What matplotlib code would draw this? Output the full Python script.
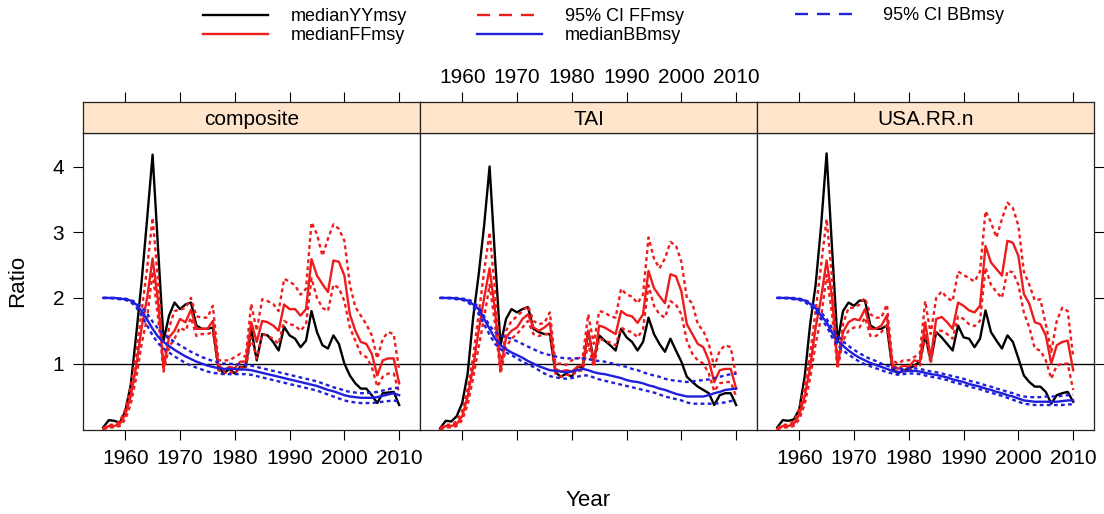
#!/usr/bin/env python3
"""Median YY/FF/BB msy ratios with 95% CIs, three stock assessments, lattice-style panels."""
import matplotlib
matplotlib.use("Agg")
import matplotlib.pyplot as plt
from matplotlib.lines import Line2D

years = list(range(1956, 2011))
panel_names = ["composite", "TAI", "USA.RR.n"]
x_ticks = [1960, 1970, 1980, 1990, 2000, 2010]
y_ticks = [1, 2, 3, 4]

# ---- composite ----
yy_composite = [0.03, 0.14, 0.13, 0.10, 0.27, 0.67, 1.43, 2.25, 3.20, 4.18,
                2.75, 1.35, 1.73, 1.93, 1.83, 1.90, 1.93, 1.58, 1.53, 1.53,
                1.55, 0.95, 0.85, 0.92, 0.85, 0.95, 0.95, 1.53, 1.05, 1.45,
                1.43, 1.33, 1.20, 1.56, 1.43, 1.38, 1.25, 1.35, 1.80, 1.48,
                1.28, 1.23, 1.43, 1.30, 1.00, 0.82, 0.70, 0.62, 0.62, 0.52,
                0.40, 0.55, 0.56, 0.57, 0.37]
ff_composite = [0.00, 0.05, 0.05, 0.08, 0.22, 0.50, 0.95, 1.55, 2.00, 2.60,
                1.95, 0.92, 1.40, 1.50, 1.68, 1.63, 1.82, 1.53, 1.53, 1.53,
                1.65, 0.98, 0.90, 0.95, 0.93, 1.03, 1.03, 1.63, 1.33, 1.65,
                1.63, 1.58, 1.50, 1.90, 1.83, 1.83, 1.73, 1.83, 2.59, 2.34,
                2.21, 2.09, 2.57, 2.55, 2.34, 1.75, 1.50, 1.33, 1.30, 1.15,
                0.82, 1.05, 1.08, 1.08, 0.70]
ff_hi_composite = [0.02, 0.07, 0.07, 0.12, 0.30, 0.65, 1.15, 1.80, 2.45, 3.22,
                   2.25, 1.00, 1.55, 1.80, 1.82, 1.85, 2.00, 1.72, 1.70, 1.70,
                   1.88, 1.05, 1.05, 1.05, 1.10, 1.15, 1.10, 1.91, 1.50, 1.98,
                   1.95, 1.91, 1.80, 2.29, 2.25, 2.19, 2.05, 2.14, 3.15, 2.97,
                   2.64, 2.90, 3.12, 3.05, 2.87, 2.20, 1.86, 1.73, 1.60, 1.43,
                   1.08, 1.38, 1.48, 1.45, 0.90]
ff_lo_composite = [0.00, 0.03, 0.03, 0.05, 0.15, 0.38, 0.78, 1.30, 1.70, 2.40,
                   1.70, 0.88, 1.25, 1.38, 1.55, 1.50, 1.70, 1.42, 1.45, 1.45,
                   1.48, 0.90, 0.85, 0.88, 0.85, 0.95, 0.92, 1.40, 1.08, 1.45,
                   1.42, 1.38, 1.30, 1.65, 1.60, 1.58, 1.50, 1.60, 2.30, 2.00,
                   1.85, 1.80, 2.20, 2.15, 1.95, 1.55, 1.35, 1.15, 1.10, 0.95,
                   0.65, 0.80, 0.85, 0.85, 0.55]
bb_composite = [2.00, 2.00, 2.00, 1.99, 1.98, 1.96, 1.90, 1.80, 1.67, 1.53,
                1.41, 1.33, 1.27, 1.21, 1.16, 1.11, 1.07, 1.03, 1.00, 0.97,
                0.95, 0.93, 0.92, 0.92, 0.92, 0.91, 0.91, 0.90, 0.88, 0.86,
                0.84, 0.82, 0.80, 0.78, 0.76, 0.74, 0.72, 0.70, 0.68, 0.66,
                0.63, 0.60, 0.58, 0.55, 0.52, 0.50, 0.49, 0.48, 0.48, 0.48,
                0.49, 0.51, 0.53, 0.55, 0.52]
bb_hi_composite = [2.00, 2.00, 2.00, 1.99, 1.99, 1.97, 1.93, 1.86, 1.76, 1.64,
                   1.53, 1.45, 1.39, 1.33, 1.28, 1.23, 1.18, 1.14, 1.10, 1.07,
                   1.04, 1.02, 1.00, 1.00, 0.99, 0.99, 0.98, 0.97, 0.95, 0.93,
                   0.91, 0.89, 0.87, 0.85, 0.83, 0.81, 0.79, 0.77, 0.75, 0.73,
                   0.70, 0.67, 0.64, 0.62, 0.59, 0.57, 0.56, 0.55, 0.55, 0.56,
                   0.57, 0.59, 0.61, 0.63, 0.63]
bb_lo_composite = [2.00, 2.00, 1.99, 1.98, 1.97, 1.94, 1.86, 1.73, 1.58, 1.43,
                   1.31, 1.23, 1.17, 1.11, 1.06, 1.01, 0.97, 0.94, 0.91, 0.88,
                   0.86, 0.85, 0.84, 0.84, 0.84, 0.84, 0.84, 0.83, 0.81, 0.79,
                   0.77, 0.75, 0.73, 0.71, 0.69, 0.67, 0.65, 0.63, 0.61, 0.59,
                   0.56, 0.53, 0.50, 0.47, 0.44, 0.42, 0.41, 0.40, 0.40, 0.40,
                   0.41, 0.42, 0.43, 0.44, 0.42]

# ---- TAI ----
yy_tai = [0.02, 0.13, 0.12, 0.20, 0.40, 0.85, 1.70, 2.35, 3.10, 4.00,
          2.60, 1.28, 1.68, 1.83, 1.78, 1.83, 1.86, 1.53, 1.48, 1.45,
          1.45, 0.87, 0.80, 0.85, 0.80, 0.95, 0.95, 1.50, 1.05, 1.43,
          1.35, 1.28, 1.20, 1.53, 1.40, 1.33, 1.20, 1.33, 1.70, 1.45,
          1.30, 1.18, 1.38, 1.20, 1.03, 0.80, 0.72, 0.65, 0.60, 0.55,
          0.37, 0.52, 0.55, 0.55, 0.37]
ff_tai = [0.00, 0.05, 0.05, 0.08, 0.20, 0.50, 0.95, 1.50, 2.00, 2.45,
          1.80, 0.90, 1.40, 1.50, 1.55, 1.68, 1.75, 1.55, 1.50, 1.55,
          1.62, 0.92, 0.88, 0.90, 0.88, 0.95, 0.98, 1.50, 1.00, 1.58,
          1.55, 1.50, 1.45, 1.80, 1.74, 1.72, 1.62, 1.75, 2.41, 2.15,
          2.03, 1.92, 2.36, 2.33, 2.10, 1.60, 1.45, 1.30, 1.25, 1.05,
          0.72, 0.90, 0.92, 0.92, 0.62]
ff_hi_tai = [0.02, 0.07, 0.07, 0.12, 0.28, 0.62, 1.10, 1.75, 2.40, 3.00,
             2.10, 0.95, 1.50, 1.65, 1.72, 1.80, 1.88, 1.65, 1.60, 1.62,
             1.78, 1.00, 1.00, 0.98, 1.05, 1.08, 1.10, 1.75, 1.30, 1.80,
             1.78, 1.72, 1.70, 2.14, 2.05, 2.02, 1.92, 2.05, 2.92, 2.60,
             2.45, 2.60, 2.85, 2.80, 2.55, 2.00, 1.92, 1.60, 1.50, 1.30,
             0.95, 1.20, 1.28, 1.25, 0.80]
ff_lo_tai = [0.00, 0.03, 0.03, 0.05, 0.14, 0.38, 0.78, 1.25, 1.70, 2.20,
             1.60, 0.85, 1.25, 1.38, 1.45, 1.55, 1.65, 1.45, 1.42, 1.45,
             1.45, 0.85, 0.80, 0.83, 0.82, 0.88, 0.90, 1.30, 0.95, 1.38,
             1.35, 1.32, 1.28, 1.55, 1.50, 1.48, 1.40, 1.52, 2.19, 1.88,
             1.75, 1.70, 1.95, 1.90, 1.75, 1.35, 1.15, 1.05, 1.00, 0.85,
             0.58, 0.70, 0.72, 0.72, 0.50]
bb_tai = [2.00, 2.00, 2.00, 1.99, 1.98, 1.96, 1.90, 1.83, 1.68, 1.53,
          1.38, 1.28, 1.22, 1.17, 1.13, 1.09, 1.04, 1.00, 0.96, 0.93,
          0.90, 0.89, 0.88, 0.87, 0.88, 0.90, 0.92, 0.90, 0.87, 0.85,
          0.84, 0.82, 0.80, 0.78, 0.75, 0.73, 0.72, 0.70, 0.67, 0.65,
          0.62, 0.60, 0.57, 0.54, 0.52, 0.50, 0.50, 0.50, 0.50, 0.52,
          0.55, 0.57, 0.60, 0.61, 0.62]
bb_hi_tai = [2.00, 2.00, 2.00, 2.00, 1.99, 1.98, 1.94, 1.86, 1.72, 1.58,
             1.48, 1.43, 1.40, 1.38, 1.34, 1.30, 1.26, 1.22, 1.18, 1.15,
             1.13, 1.11, 1.09, 1.08, 1.08, 1.08, 1.08, 1.07, 1.05, 1.04,
             1.03, 1.01, 0.99, 0.97, 0.95, 0.92, 0.90, 0.87, 0.84, 0.82,
             0.80, 0.77, 0.75, 0.74, 0.73, 0.72, 0.73, 0.74, 0.75, 0.76,
             0.78, 0.80, 0.82, 0.84, 0.85]
bb_lo_tai = [2.00, 2.00, 1.99, 1.98, 1.97, 1.94, 1.86, 1.76, 1.60, 1.44,
             1.30, 1.22, 1.17, 1.13, 1.08, 1.03, 0.99, 0.95, 0.90, 0.85,
             0.81, 0.79, 0.78, 0.77, 0.78, 0.80, 0.82, 0.82, 0.79, 0.76,
             0.74, 0.72, 0.70, 0.68, 0.66, 0.64, 0.62, 0.60, 0.58, 0.56,
             0.53, 0.50, 0.48, 0.46, 0.44, 0.41, 0.39, 0.39, 0.39, 0.39,
             0.39, 0.40, 0.41, 0.43, 0.44]

# ---- USA.RR.n ----
yy_usa = [0.03, 0.14, 0.13, 0.15, 0.30, 0.80, 1.60, 2.20, 3.10, 4.20,
          2.75, 1.33, 1.80, 1.93, 1.88, 1.96, 1.96, 1.58, 1.53, 1.53,
          1.58, 0.92, 0.85, 0.90, 0.92, 0.97, 1.03, 1.43, 1.05, 1.48,
          1.40, 1.30, 1.20, 1.58, 1.40, 1.38, 1.25, 1.38, 1.81, 1.48,
          1.35, 1.23, 1.43, 1.33, 1.08, 0.82, 0.72, 0.65, 0.65, 0.57,
          0.39, 0.52, 0.55, 0.57, 0.42]
ff_usa = [0.00, 0.05, 0.05, 0.08, 0.22, 0.50, 0.95, 1.55, 2.00, 2.57,
          2.00, 0.97, 1.48, 1.63, 1.68, 1.66, 1.83, 1.53, 1.53, 1.58,
          1.73, 1.00, 0.92, 0.97, 0.95, 1.05, 1.03, 1.63, 1.08, 1.68,
          1.71, 1.63, 1.53, 1.93, 1.88, 1.81, 1.78, 1.88, 2.79, 2.54,
          2.44, 2.34, 2.87, 2.84, 2.64, 2.06, 1.91, 1.63, 1.60, 1.43,
          1.00, 1.28, 1.33, 1.35, 0.90]
ff_hi_usa = [0.02, 0.07, 0.07, 0.12, 0.30, 0.65, 1.15, 1.80, 2.50, 3.20,
             2.30, 1.02, 1.60, 1.85, 1.85, 1.90, 2.00, 1.75, 1.70, 1.70,
             1.90, 1.05, 1.00, 1.05, 1.05, 1.10, 1.15, 1.95, 1.45, 2.00,
             2.10, 2.00, 1.95, 2.40, 2.35, 2.30, 2.25, 2.40, 3.32, 3.15,
             2.92, 3.20, 3.45, 3.37, 3.10, 2.40, 2.20, 1.96, 1.98, 1.60,
             1.18, 1.65, 1.85, 1.80, 1.10]
ff_lo_usa = [0.00, 0.03, 0.03, 0.05, 0.15, 0.38, 0.78, 1.30, 1.70, 2.35,
             1.75, 0.92, 1.35, 1.50, 1.55, 1.55, 1.70, 1.42, 1.42, 1.48,
             1.58, 0.93, 0.87, 0.90, 0.88, 0.97, 0.95, 1.45, 1.00, 1.50,
             1.50, 1.45, 1.38, 1.72, 1.68, 1.60, 1.57, 1.65, 2.46, 2.20,
             2.09, 2.00, 2.41, 2.39, 2.20, 1.78, 1.55, 1.23, 1.20, 1.05,
             0.77, 0.97, 1.00, 1.00, 0.60]
bb_usa = [2.00, 2.00, 2.00, 1.99, 1.98, 1.96, 1.91, 1.84, 1.73, 1.63,
          1.47, 1.35, 1.27, 1.20, 1.14, 1.09, 1.05, 1.01, 0.98, 0.95,
          0.92, 0.89, 0.87, 0.88, 0.89, 0.89, 0.88, 0.86, 0.84, 0.83,
          0.81, 0.79, 0.76, 0.74, 0.72, 0.69, 0.67, 0.65, 0.62, 0.60,
          0.57, 0.55, 0.52, 0.50, 0.47, 0.44, 0.43, 0.42, 0.42, 0.42,
          0.42, 0.42, 0.43, 0.44, 0.44]
bb_hi_usa = [2.00, 2.00, 2.00, 2.00, 1.99, 1.97, 1.93, 1.87, 1.78, 1.68,
             1.54, 1.42, 1.34, 1.27, 1.21, 1.16, 1.11, 1.07, 1.04, 1.00,
             0.97, 0.94, 0.92, 0.92, 0.93, 0.93, 0.92, 0.90, 0.88, 0.87,
             0.85, 0.83, 0.81, 0.79, 0.77, 0.74, 0.72, 0.70, 0.67, 0.65,
             0.62, 0.60, 0.57, 0.55, 0.52, 0.50, 0.49, 0.49, 0.49, 0.50,
             0.50, 0.50, 0.51, 0.52, 0.53]
bb_lo_usa = [2.00, 2.00, 1.99, 1.98, 1.97, 1.94, 1.88, 1.80, 1.68, 1.57,
             1.40, 1.28, 1.20, 1.14, 1.08, 1.03, 0.99, 0.96, 0.93, 0.90,
             0.87, 0.85, 0.83, 0.84, 0.85, 0.85, 0.84, 0.82, 0.80, 0.79,
             0.77, 0.75, 0.72, 0.70, 0.68, 0.65, 0.63, 0.61, 0.58, 0.56,
             0.53, 0.51, 0.48, 0.45, 0.42, 0.39, 0.38, 0.37, 0.37, 0.37,
             0.37, 0.37, 0.37, 0.38, 0.38]

panels = [
    (yy_composite, ff_composite, ff_lo_composite, ff_hi_composite,
     bb_composite, bb_lo_composite, bb_hi_composite),
    (yy_tai, ff_tai, ff_lo_tai, ff_hi_tai, bb_tai, bb_lo_tai, bb_hi_tai),
    (yy_usa, ff_usa, ff_lo_usa, ff_hi_usa, bb_usa, bb_lo_usa, bb_hi_usa),
]

RED = "#ee1c1c"
BLUE = "#1f1fdc"
STRIP = "#ffe5cc"
LW = 1.7
DOT = (0, (1.6, 1.4))

plt.rcParams["font.family"] = ["Liberation Sans", "DejaVu Sans"]
plt.rcParams["axes.linewidth"] = 0.9

W, H = 1104, 514
fig = plt.figure(figsize=(W / 100, H / 100), dpi=100)

px_left, px_w = 83, 337
px_bottom, px_top, px_strip = 430, 133, 31

for i, (name, series) in enumerate(zip(panel_names, panels)):
    yy, ff, ff_lo, ff_hi, bb, bb_lo, bb_hi = series
    l = (px_left + i * px_w) / W
    b = 1 - px_bottom / H
    h = (px_bottom - px_top) / H
    ax = fig.add_axes([l, b, px_w / W, h])
    sax = fig.add_axes([l, b + h, px_w / W, px_strip / H])

    ax.axhline(1, color="black", lw=1.0, zorder=1)
    ax.plot(years, yy, color="black", lw=LW, zorder=2)
    ax.plot(years, ff, color=RED, lw=LW, zorder=3)
    ax.plot(years, ff_lo, color=RED, lw=LW, ls=DOT, zorder=3)
    ax.plot(years, ff_hi, color=RED, lw=LW, ls=DOT, zorder=3)
    ax.plot(years, bb, color=BLUE, lw=LW, zorder=4)
    ax.plot(years, bb_lo, color=BLUE, lw=LW, ls=DOT, zorder=4)
    ax.plot(years, bb_hi, color=BLUE, lw=LW, ls=DOT, zorder=4)

    ax.set_xlim(1952.3, 2013.8)
    ax.set_ylim(-0.01, 4.51)
    ax.set_xticks(x_ticks)
    ax.set_yticks(y_ticks)
    ax.tick_params(axis="both", direction="out", length=7.5, width=0.8,
                   labelsize=15, pad=6)
    ax.tick_params(axis="x", labelbottom=(i != 1))
    ax.tick_params(axis="y", left=(i == 0), labelleft=(i == 0),
                   right=(i == 2), labelright=False)
    for s in ax.spines.values():
        s.set_color("#222222")

    sax.set_facecolor(STRIP)
    sax.set_xlim(1952.3, 2013.8)
    sax.set_yticks([])
    sax.set_xticks(x_ticks)
    sax.xaxis.tick_top()
    sax.tick_params(axis="x", direction="out", length=7.5, width=0.8,
                    labelsize=15, pad=3, labeltop=(i == 1))
    for s in sax.spines.values():
        s.set_color("#222222")
    sax.text(0.5, 0.45, name, transform=sax.transAxes, ha="center",
             va="center", fontsize=15)

fig.text(18 / W, 1 - 281 / H, "Ratio", rotation=90, ha="center",
         va="center", fontsize=16)
fig.text(588 / W, 1 - 500 / H, "Year", ha="center", va="center", fontsize=16)

# legend, three columns like the lattice key
leg_kw = dict(frameon=False, fontsize=13, handlelength=3.6, handletextpad=1.25,
              labelspacing=0.12, borderpad=0, borderaxespad=0)
dash = (0, (5.5, 3.8))
col1 = [Line2D([], [], color="black", lw=LW), Line2D([], [], color=RED, lw=LW)]
col2 = [Line2D([], [], color=RED, lw=LW, ls=dash), Line2D([], [], color=BLUE, lw=LW)]
col3 = [Line2D([], [], color=BLUE, lw=LW, ls=dash)]
fig.legend(col1, ["medianYYmsy", "medianFFmsy"], loc="center left",
           bbox_to_anchor=(203 / W, 1 - 26 / H), **leg_kw)
fig.legend(col2, ["95% CI FFmsy", "medianBBmsy"], loc="center left",
           bbox_to_anchor=(477 / W, 1 - 26 / H), **leg_kw)
fig.legend(col3, ["95% CI BBmsy"], loc="center left",
           bbox_to_anchor=(795 / W, 1 - 16 / H), **leg_kw)

fig.savefig("out.png", dpi=100)
